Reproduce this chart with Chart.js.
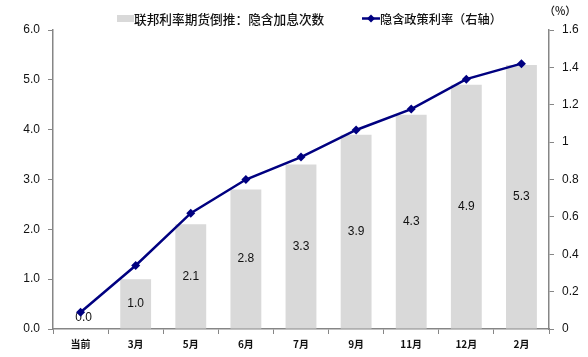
<!DOCTYPE html>
<html>
<head>
<meta charset="utf-8">
<script src="https://cdn.jsdelivr.net/npm/chart.js@4.4.1/dist/chart.umd.min.js"></script>
<style>
html,body{margin:0;padding:0;background:#fff;}
#wrap{width:588px;height:357px;position:relative;}
</style>
</head>
<body>
<div id="wrap"><canvas id="c" width="588" height="357"></canvas></div>
<script>
const categories = ['当前','3月','5月','6月','7月','9月','11月','12月','2月'];
const hikeCounts = [0.0, 1.0, 2.1, 2.8, 3.3, 3.9, 4.3, 4.9, 5.3];
const impliedRate = [0.09, 0.34, 0.62, 0.80, 0.92, 1.065, 1.177, 1.337, 1.42];
const barLabel = '联邦利率期货倒推：隐含加息次数';
const lineLabel = '隐含政策利率（右轴）';
const unitLabel = '（%）';

const FONT = "'Liberation Sans', Arial, 'Noto Sans CJK SC', sans-serif";
const CJK = "'Noto Sans CJK SC', 'Liberation Sans', sans-serif";
const AXIS = '#868686';
const BAR = '#d9d9d9';
const LINE = '#000080';

const overlay = {
  id: 'overlay',
  afterDatasetDraw(chart, args) {
    if (args.index !== 1) return;
    const ctx = chart.ctx;
    const meta = args.meta;
    ctx.save();
    ctx.font = '12px ' + FONT;
    ctx.fillStyle = '#111';
    ctx.textAlign = 'center';
    ctx.textBaseline = 'middle';
    meta.data.forEach((el, i) => {
      const v = hikeCounts[i];
      let y = (el.y + el.base) / 2;
      if (v === 0) y = el.base - 11;
      ctx.fillText(v.toFixed(1), el.x + (v === 0 ? 3 : 0), y);
    });
    ctx.restore();
  },
  afterDraw(chart) {
    const ctx = chart.ctx;
    ctx.save();
    // legend: bar
    ctx.fillStyle = BAR;
    ctx.fillRect(117, 15, 17, 7);
    ctx.font = '500 12.7px ' + CJK;
    ctx.fillStyle = '#111';
    ctx.textAlign = 'left';
    ctx.textBaseline = 'middle';
    ctx.fillText(barLabel, 134, 19);
    // legend: line
    ctx.strokeStyle = LINE;
    ctx.lineWidth = 2.5;
    ctx.beginPath();
    ctx.moveTo(362, 18.5);
    ctx.lineTo(380, 18.5);
    ctx.stroke();
    ctx.fillStyle = LINE;
    ctx.beginPath();
    ctx.moveTo(371, 14.5); ctx.lineTo(375, 18.5); ctx.lineTo(371, 22.5); ctx.lineTo(367, 18.5);
    ctx.closePath(); ctx.fill();
    ctx.fillStyle = '#111';
    ctx.font = '500 12.2px ' + CJK;
    ctx.fillText(lineLabel, 380, 19);
    // unit
    ctx.font = '500 11px ' + CJK;
    ctx.fillText(unitLabel, 544, 11);
    ctx.restore();
  }
};

new Chart(document.getElementById('c'), {
  data: {
    labels: categories,
    datasets: [
      {
        type: 'line',
        label: lineLabel,
        data: impliedRate,
        yAxisID: 'y1',
        borderColor: LINE,
        backgroundColor: LINE,
        borderWidth: 2.5,
        pointStyle: 'rectRot',
        pointRadius: 4.5,
        pointBorderWidth: 0,
        tension: 0,
        order: 0
      },
      {
        type: 'bar',
        label: barLabel,
        data: hikeCounts,
        yAxisID: 'y',
        backgroundColor: BAR,
        borderWidth: 0,
        barPercentage: 0.56,
        categoryPercentage: 1.0,
        order: 1
      }
    ]
  },
  options: {
    responsive: false,
    animation: false,
    layout: { padding: { top: 30, left: 0, right: 0, bottom: 0 } },
    plugins: { legend: { display: false }, tooltip: { enabled: false } },
    scales: {
      x: {
        offset: true,
        grid: { display: true, drawOnChartArea: false, offset: true, tickLength: 5, color: AXIS, lineWidth: 1 },
        border: { display: true, color: AXIS, width: 1.5 },
        ticks: { color: '#111', font: { family: CJK, size: 10, weight: 'bold' }, padding: 4, maxRotation: 0, autoSkip: false },
        afterFit(axis) { axis.height = 28; }
      },
      y: {
        position: 'left',
        min: 0, max: 6,
        ticks: { stepSize: 1, color: '#111', font: { family: FONT, size: 12 }, padding: 8, callback: v => Number(v).toFixed(1) },
        grid: { display: true, drawOnChartArea: false, tickLength: 5, color: AXIS },
        border: { display: true, color: AXIS, width: 1.5 },
        afterFit(axis) { axis.width = 53; }
      },
      y1: {
        position: 'right',
        min: 0, max: 1.6,
        ticks: { stepSize: 0.2, color: '#111', font: { family: FONT, size: 12 }, padding: 8, callback: v => String(Number(Number(v).toFixed(1))) },
        grid: { display: true, drawOnChartArea: false, tickLength: 5, color: AXIS },
        border: { display: true, color: AXIS, width: 1.5 },
        afterFit(axis) { axis.width = 39; }
      }
    }
  },
  plugins: [overlay]
});
</script>
</body>
</html>
